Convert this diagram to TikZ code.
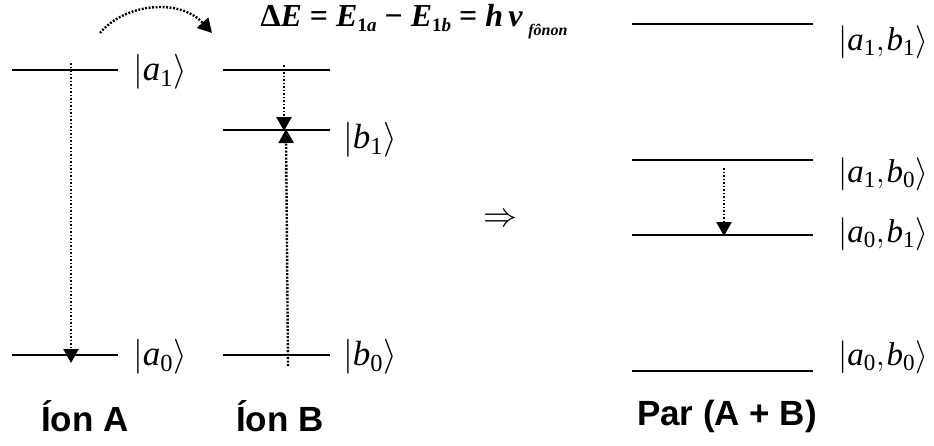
\documentclass[tikz,border=0pt]{standalone}
\usepackage{fix-cm}
\usepackage{amsmath}
\usepackage{fontspec}
\setmainfont{Liberation Serif}
\newfontfamily\labfont{Liberation Sans}
\usetikzlibrary{arrows.meta}
\newcommand{\myket}[1]{$\left|\vphantom{b_1}#1\right\rangle$}
\newcommand{\iv}[1]{\text{\itshape #1}}
\newcommand{\sub}[1]{_{\text{#1}}}
\newcommand{\cm}{{,}\mkern1mu}
\tikzset{
  level/.style={line width=2.2pt},
  trans/.style={line width=2.4pt, dash pattern=on 1.9pt off 1.6pt, -{Triangle[width=15pt,length=14pt]}},
  ketlab/.style={font=\fontsize{35}{40}\selectfont, inner sep=0pt, anchor=west},
  pairlab/.style={font=\fontsize{33}{38}\selectfont, inner sep=0pt, anchor=west},
  ionlab/.style={font=\labfont\bfseries\fontsize{35}{40}\selectfont, inner sep=0pt}
}
\begin{document}
\begin{tikzpicture}[x=1pt,y=-1pt]
\useasboundingbox (0,0) rectangle (934,445);
% Ion A
\coordinate (a1l) at (12,70); \coordinate (a1r) at (118,70);
\coordinate (a0l) at (12,355); \coordinate (a0r) at (118,355);
\draw[level] (a1l) -- (a1r);
\draw[level] (a0l) -- (a0r);
\coordinate (tA1) at (71,63); \coordinate (tA0) at (71,363);
\draw[trans] (tA1) -- (tA0);
\node[ketlab] (ka1) at (133,72) {\myket{\iv{a}\sub{1}}};
\node[ketlab] (ka0) at (133,357) {\myket{\iv{a}\sub{0}}};
% Ion B
\coordinate (b2l) at (223,70); \coordinate (b2r) at (330,70);
\coordinate (b1l) at (223,130); \coordinate (b1r) at (330,130);
\coordinate (b0l) at (223,355); \coordinate (b0r) at (330,355);
\draw[level] (b2l) -- (b2r);
\draw[level] (b1l) -- (b1r);
\draw[level] (b0l) -- (b0r);
\coordinate (tB2) at (284,65); \coordinate (tB1) at (284,131);
\coordinate (tB0) at (288,366); \coordinate (tB1u) at (286,129);
\draw[trans] (tB2) -- (tB1);
\draw[trans] (tB0) -- (tB1u);
\node[ketlab] (kb1) at (343,140) {\myket{\iv{b}\sub{1}}};
\node[ketlab] (kb0) at (343,357) {\myket{\iv{b}\sub{0}}};
% curved arrow
\coordinate (cs) at (100,33); \coordinate (ce) at (212,33);
\draw[trans] (cs) .. controls (125,3) and (180,-2) .. (ce);
% equation
\node[inner sep=0pt, font=\fontsize{32}{36}\selectfont\bfseries] (eq) at (414,22)
 {Δ\textit{E} = \textit{E}\raisebox{-5pt}{\fontsize{19}{20}\selectfont 1\textit{a}} − \textit{E}\raisebox{-5pt}{\fontsize{19}{20}\selectfont 1\textit{b}} = \textit{h}\,\textit{ν}\,\raisebox{-9pt}{\fontsize{16}{17}\selectfont\textit{fônon}}};
% implies
\node[inner sep=0pt, font=\fontsize{34}{38}\selectfont] (imp) at (500,220) {$\Rightarrow$};
% Pair
\coordinate (p3l) at (632,24); \coordinate (p3r) at (813,24);
\coordinate (p2l) at (632,160); \coordinate (p2r) at (813,160);
\coordinate (p1l) at (632,235); \coordinate (p1r) at (813,235);
\coordinate (p0l) at (632,371); \coordinate (p0r) at (813,371);
\draw[level] (p3l) -- (p3r);
\draw[level] (p2l) -- (p2r);
\draw[level] (p1l) -- (p1r);
\draw[level] (p0l) -- (p0r);
\coordinate (tP2) at (724,168); \coordinate (tP1) at (724,236);
\draw[trans] (tP2) -- (tP1);
\node[pairlab] (k11) at (838,42) {\myket{\iv{a}\sub{1}\cm\iv{b}\sub{1}}};
\node[pairlab] (k10) at (838,174) {\myket{\iv{a}\sub{1}\cm\iv{b}\sub{0}}};
\node[pairlab] (k01) at (838,234) {\myket{\iv{a}\sub{0}\cm\iv{b}\sub{1}}};
\node[pairlab] (k00) at (838,357) {\myket{\iv{a}\sub{0}\cm\iv{b}\sub{0}}};
% labels
\node[ionlab] (lA) at (85,416) {Íon A};
\node[ionlab] (lB) at (280,416) {Íon B};
\node[ionlab] (lP) at (727,416) {Par (A + B)};
\end{tikzpicture}
\end{document}
